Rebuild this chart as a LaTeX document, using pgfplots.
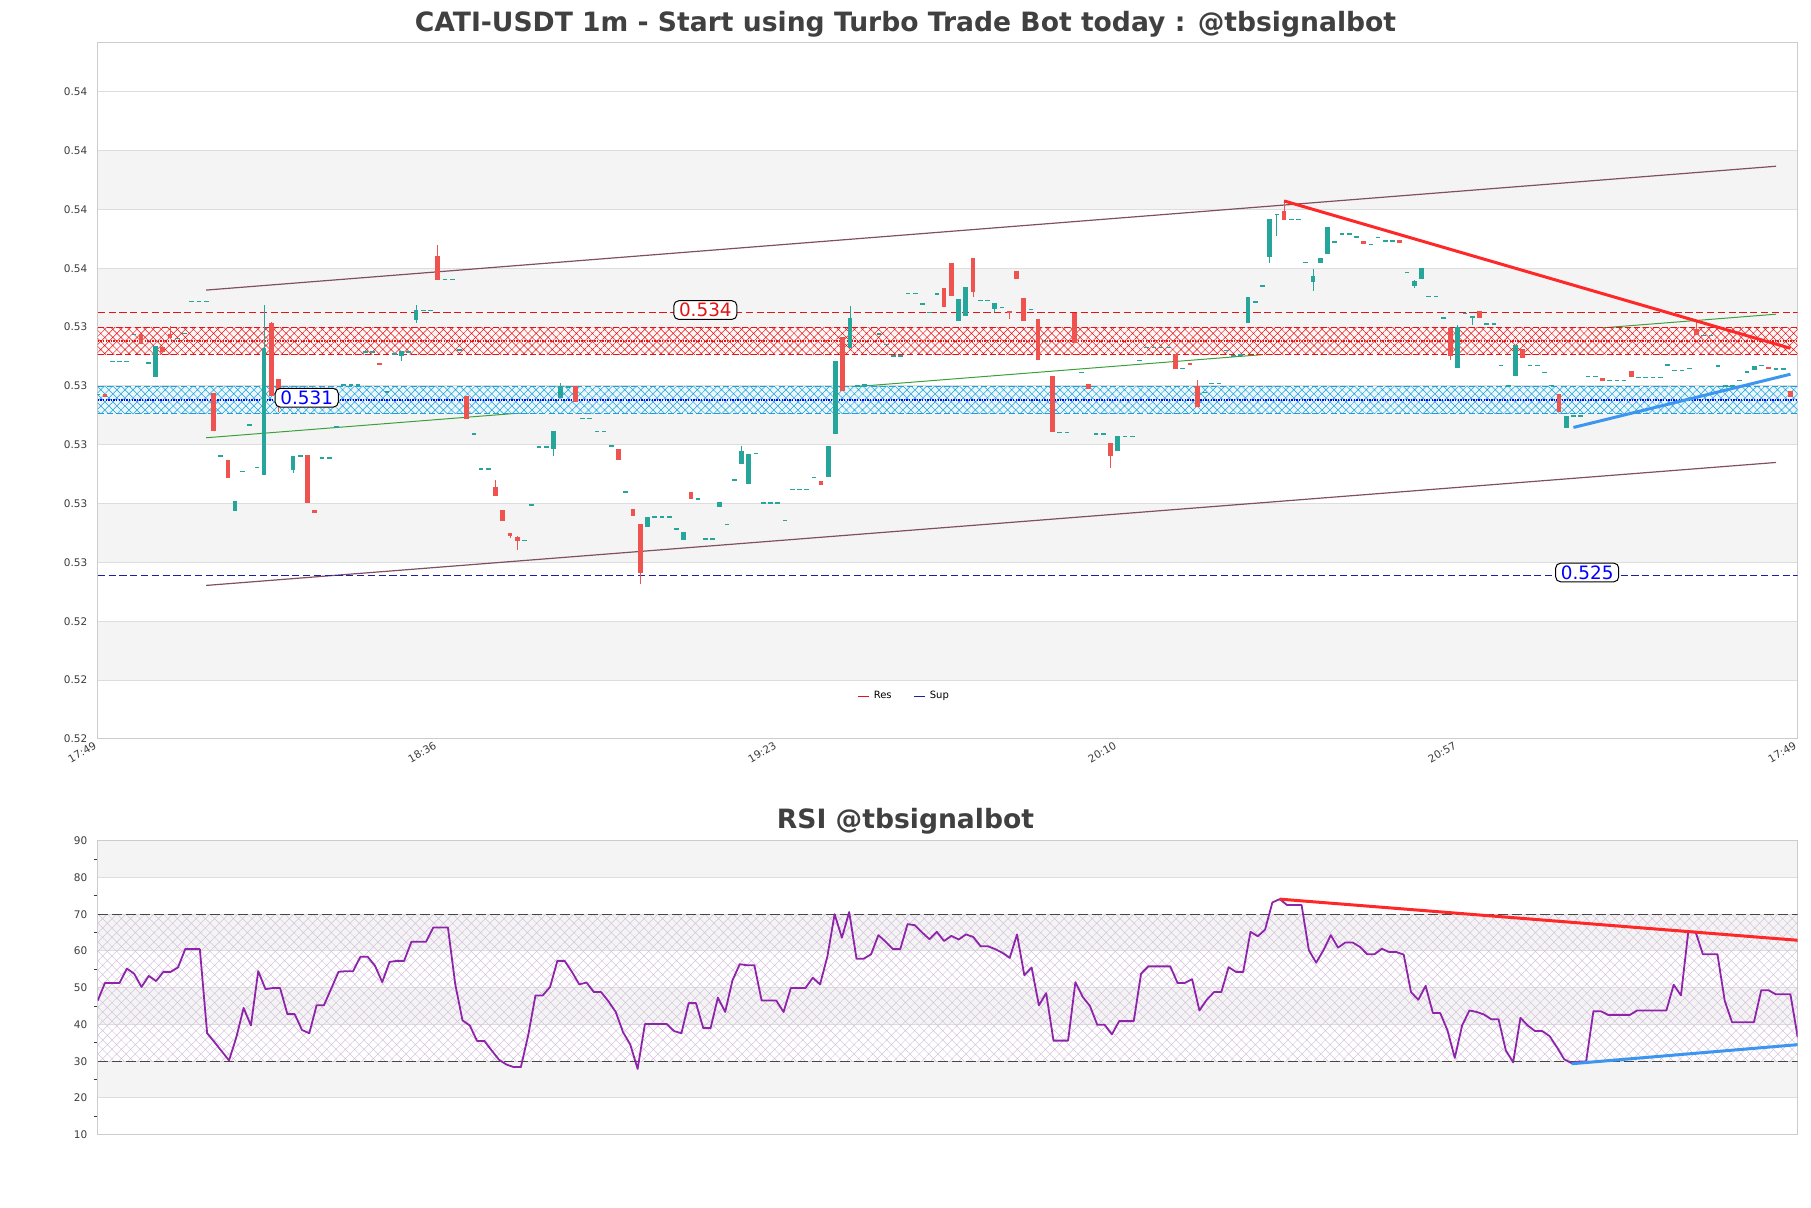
\documentclass[border=0pt]{standalone}
\usepackage{fontspec}
\setmainfont{DejaVu Sans}
\usepackage{pgfplots}
\usepackage{pgfplotstable}
\pgfplotsset{compat=1.18}
\usetikzlibrary{patterns.meta}

\definecolor{bandgray}{RGB}{244,244,244}
\definecolor{gridgray}{RGB}{221,221,221}
\definecolor{axgray}{RGB}{204,204,204}
\definecolor{tickgray}{RGB}{60,60,60}
\definecolor{titlegray}{RGB}{64,64,64}
\definecolor{cgreen}{RGB}{38,166,154}
\definecolor{cred}{RGB}{239,83,80}
\definecolor{resred}{RGB}{228,20,20}
\definecolor{chan}{RGB}{128,80,96}
\definecolor{midg}{RGB}{60,160,60}
\definecolor{trendred}{RGB}{255,40,40}
\definecolor{trendblue}{RGB}{60,150,240}
\definecolor{supcyan}{RGB}{30,160,215}
\definecolor{supblue}{RGB}{0,0,255}
\definecolor{supnavy}{RGB}{30,30,170}
\definecolor{rsipurple}{RGB}{142,36,170}
\definecolor{hatchpurple}{RGB}{215,195,222}
\definecolor{lvlgray}{RGB}{70,70,70}

\newcommand\tickfont{\fontsize{5.25}{6}\selectfont}
\newcommand\titlefont{\fontsize{13.3}{15}\selectfont\bfseries}

% 1m candles: index, open, high, low, close
\pgfplotstableread{
x o h l c
0 0.53173 0.53173 0.53173 0.53173
1 0.53173 0.53173 0.53164 0.53164
2 0.53284 0.53284 0.53284 0.53284
3 0.53284 0.53284 0.53284 0.53284
4 0.53284 0.53284 0.53284 0.53284
5 0.53376 0.53376 0.53376 0.53376
6 0.53377 0.53377 0.53345 0.53345
7 0.53280 0.53280 0.53280 0.53280
8 0.53232 0.53338 0.53232 0.53338
9 0.53334 0.53334 0.53317 0.53317
10 0.53377 0.53404 0.53362 0.53362
11 0.53362 0.53362 0.53362 0.53362
12 0.53381 0.53381 0.53381 0.53381
13 0.53489 0.53489 0.53489 0.53489
14 0.53489 0.53489 0.53489 0.53489
15 0.53489 0.53489 0.53489 0.53489
16 0.53175 0.53175 0.53048 0.53048
17 0.52964 0.52964 0.52964 0.52964
18 0.52950 0.52950 0.52889 0.52889
19 0.52776 0.52809 0.52776 0.52809
20 0.52910 0.52910 0.52910 0.52910
21 0.53069 0.53069 0.53069 0.53069
22 0.52924 0.52924 0.52924 0.52924
23 0.52899 0.53475 0.52899 0.53328
24 0.53413 0.53419 0.53167 0.53167
25 0.53224 0.53224 0.53112 0.53186
26 0.53186 0.53186 0.53186 0.53186
27 0.52914 0.52962 0.52905 0.52962
28 0.52962 0.52962 0.52962 0.52962
29 0.52965 0.52965 0.52803 0.52803
30 0.52778 0.52778 0.52769 0.52769
31 0.52957 0.52957 0.52957 0.52957
32 0.52957 0.52957 0.52957 0.52957
33 0.53061 0.53061 0.53061 0.53061
34 0.53205 0.53205 0.53205 0.53205
35 0.53205 0.53205 0.53205 0.53205
36 0.53205 0.53205 0.53205 0.53205
37 0.53318 0.53318 0.53318 0.53318
38 0.53318 0.53318 0.53318 0.53318
39 0.53280 0.53280 0.53275 0.53275
40 0.53180 0.53180 0.53180 0.53180
41 0.53311 0.53311 0.53311 0.53311
42 0.53303 0.53318 0.53286 0.53318
43 0.53318 0.53318 0.53318 0.53318
44 0.53424 0.53475 0.53413 0.53458
45 0.53458 0.53458 0.53458 0.53458
46 0.53458 0.53458 0.53458 0.53458
47 0.53642 0.53679 0.53563 0.53563
48 0.53563 0.53563 0.53563 0.53563
49 0.53563 0.53563 0.53563 0.53563
50 0.53324 0.53324 0.53324 0.53324
51 0.53166 0.53166 0.53090 0.53090
52 0.53039 0.53039 0.53039 0.53039
53 0.52920 0.52920 0.52920 0.52920
54 0.52920 0.52920 0.52920 0.52920
55 0.52857 0.52882 0.52827 0.52827
56 0.52778 0.52778 0.52742 0.52742
57 0.52699 0.52699 0.52684 0.52691
58 0.52687 0.52693 0.52644 0.52674
59 0.52676 0.52676 0.52676 0.52676
60 0.52797 0.52797 0.52797 0.52797
61 0.52995 0.52995 0.52995 0.52995
62 0.52995 0.52995 0.52995 0.52995
63 0.52987 0.53047 0.52963 0.53047
64 0.53159 0.53212 0.53159 0.53200
65 0.53198 0.53198 0.53198 0.53198
66 0.53200 0.53200 0.53147 0.53147
67 0.53090 0.53090 0.53090 0.53090
68 0.53090 0.53090 0.53090 0.53090
69 0.53047 0.53047 0.53047 0.53047
70 0.53047 0.53047 0.53047 0.53047
71 0.52998 0.52998 0.52998 0.52998
72 0.52988 0.52988 0.52950 0.52950
73 0.52842 0.52842 0.52842 0.52842
74 0.52780 0.52780 0.52759 0.52759
75 0.52730 0.52730 0.52526 0.52565
76 0.52721 0.52756 0.52721 0.52756
77 0.52756 0.52756 0.52756 0.52756
78 0.52756 0.52756 0.52756 0.52756
79 0.52756 0.52756 0.52756 0.52756
80 0.52716 0.52716 0.52716 0.52716
81 0.52676 0.52703 0.52676 0.52703
82 0.52842 0.52842 0.52818 0.52818
83 0.52818 0.52818 0.52818 0.52818
84 0.52682 0.52682 0.52682 0.52682
85 0.52682 0.52682 0.52682 0.52682
86 0.52789 0.52807 0.52789 0.52807
87 0.52730 0.52730 0.52730 0.52730
88 0.52883 0.52883 0.52883 0.52883
89 0.52936 0.52996 0.52936 0.52979
90 0.52869 0.52971 0.52869 0.52971
91 0.52971 0.52971 0.52971 0.52971
92 0.52804 0.52804 0.52804 0.52804
93 0.52804 0.52804 0.52804 0.52804
94 0.52804 0.52804 0.52804 0.52804
95 0.52744 0.52744 0.52744 0.52744
96 0.52849 0.52849 0.52849 0.52849
97 0.52849 0.52849 0.52849 0.52849
98 0.52849 0.52849 0.52849 0.52849
99 0.52891 0.52891 0.52891 0.52891
100 0.52877 0.52877 0.52864 0.52864
101 0.52891 0.52996 0.52891 0.52996
102 0.53038 0.53285 0.53038 0.53285
103 0.53368 0.53368 0.53184 0.53184
104 0.53330 0.53475 0.53330 0.53430
105 0.53200 0.53200 0.53200 0.53200
106 0.53205 0.53205 0.53205 0.53205
107 0.53203 0.53203 0.53203 0.53203
108 0.53379 0.53379 0.53379 0.53379
109 0.53343 0.53343 0.53343 0.53343
110 0.53302 0.53302 0.53302 0.53302
111 0.53302 0.53302 0.53302 0.53302
112 0.53517 0.53517 0.53517 0.53517
113 0.53517 0.53517 0.53517 0.53517
114 0.53481 0.53481 0.53481 0.53481
115 0.53450 0.53450 0.53450 0.53450
116 0.53515 0.53515 0.53515 0.53515
117 0.53535 0.53535 0.53470 0.53470
118 0.53620 0.53620 0.53507 0.53507
119 0.53422 0.53496 0.53422 0.53496
120 0.53439 0.53535 0.53439 0.53535
121 0.53634 0.53634 0.53504 0.53521
122 0.53492 0.53492 0.53492 0.53492
123 0.53492 0.53492 0.53492 0.53492
124 0.53462 0.53481 0.53453 0.53481
125 0.53467 0.53467 0.53467 0.53467
126 0.53456 0.53456 0.53427 0.53451
127 0.53591 0.53591 0.53565 0.53565
128 0.53500 0.53500 0.53424 0.53424
129 0.53462 0.53462 0.53462 0.53462
130 0.53430 0.53430 0.53288 0.53288
131 0.53353 0.53353 0.53353 0.53353
132 0.53234 0.53234 0.53044 0.53044
133 0.53044 0.53044 0.53044 0.53044
134 0.53044 0.53044 0.53044 0.53044
135 0.53450 0.53450 0.53347 0.53347
136 0.53246 0.53246 0.53246 0.53246
137 0.53209 0.53209 0.53190 0.53190
138 0.53039 0.53039 0.53039 0.53039
139 0.53039 0.53039 0.53039 0.53039
140 0.53006 0.53006 0.52922 0.52963
141 0.52980 0.53030 0.52980 0.53030
142 0.53029 0.53029 0.53029 0.53029
143 0.53029 0.53029 0.53029 0.53029
144 0.53287 0.53287 0.53287 0.53287
145 0.53332 0.53332 0.53332 0.53332
146 0.53332 0.53332 0.53332 0.53332
147 0.53332 0.53332 0.53332 0.53332
148 0.53332 0.53332 0.53332 0.53332
149 0.53309 0.53309 0.53258 0.53258
150 0.53260 0.53260 0.53260 0.53260
151 0.53279 0.53279 0.53272 0.53272
152 0.53201 0.53222 0.53129 0.53129
153 0.53179 0.53179 0.53179 0.53179
154 0.53209 0.53209 0.53209 0.53209
155 0.53209 0.53209 0.53209 0.53209
156 0.53322 0.53322 0.53322 0.53322
157 0.53302 0.53302 0.53302 0.53302
158 0.53307 0.53307 0.53307 0.53307
159 0.53413 0.53504 0.53413 0.53504
160 0.53487 0.53487 0.53487 0.53487
161 0.53541 0.53541 0.53541 0.53541
162 0.53640 0.53767 0.53619 0.53767
163 0.53781 0.53787 0.53711 0.53787
164 0.53796 0.53832 0.53764 0.53764
165 0.53767 0.53767 0.53767 0.53767
166 0.53767 0.53767 0.53767 0.53767
167 0.53620 0.53620 0.53620 0.53620
168 0.53555 0.53598 0.53524 0.53574
169 0.53619 0.53637 0.53619 0.53637
170 0.53649 0.53742 0.53649 0.53742
171 0.53692 0.53692 0.53692 0.53692
172 0.53718 0.53718 0.53718 0.53718
173 0.53718 0.53718 0.53718 0.53718
174 0.53708 0.53708 0.53708 0.53708
175 0.53693 0.53693 0.53683 0.53683
176 0.53683 0.53683 0.53683 0.53683
177 0.53705 0.53705 0.53705 0.53705
178 0.53695 0.53695 0.53695 0.53695
179 0.53695 0.53695 0.53695 0.53695
180 0.53696 0.53696 0.53687 0.53687
181 0.53588 0.53588 0.53588 0.53588
182 0.53543 0.53560 0.53534 0.53560
183 0.53565 0.53603 0.53565 0.53603
184 0.53505 0.53505 0.53505 0.53505
185 0.53505 0.53505 0.53505 0.53505
186 0.53433 0.53433 0.53433 0.53433
187 0.53396 0.53396 0.53288 0.53303
188 0.53262 0.53407 0.53262 0.53402
189 0.53449 0.53449 0.53449 0.53449
190 0.53433 0.53440 0.53407 0.53440
191 0.53456 0.53456 0.53432 0.53432
192 0.53413 0.53413 0.53413 0.53413
193 0.53413 0.53413 0.53413 0.53413
194 0.53271 0.53271 0.53271 0.53271
195 0.53201 0.53201 0.53201 0.53201
196 0.53235 0.53339 0.53235 0.53339
197 0.53328 0.53328 0.53297 0.53297
198 0.53271 0.53271 0.53271 0.53271
199 0.53271 0.53271 0.53271 0.53271
200 0.53246 0.53246 0.53246 0.53246
201 0.53203 0.53203 0.53203 0.53203
202 0.53173 0.53173 0.53112 0.53112
203 0.53059 0.53098 0.53059 0.53098
204 0.53100 0.53100 0.53100 0.53100
205 0.53100 0.53100 0.53100 0.53100
206 0.53234 0.53234 0.53234 0.53234
207 0.53234 0.53234 0.53234 0.53234
208 0.53229 0.53229 0.53218 0.53218
209 0.53220 0.53220 0.53220 0.53220
210 0.53220 0.53220 0.53220 0.53220
211 0.53220 0.53220 0.53220 0.53220
212 0.53251 0.53251 0.53229 0.53229
213 0.53229 0.53229 0.53229 0.53229
214 0.53229 0.53229 0.53229 0.53229
215 0.53229 0.53229 0.53229 0.53229
216 0.53229 0.53229 0.53229 0.53229
217 0.53273 0.53273 0.53273 0.53273
218 0.53254 0.53254 0.53254 0.53254
219 0.53254 0.53254 0.53254 0.53254
220 0.53260 0.53260 0.53260 0.53260
221 0.53393 0.53424 0.53373 0.53373
222 0.53373 0.53373 0.53373 0.53373
223 0.53373 0.53373 0.53373 0.53373
224 0.53269 0.53269 0.53269 0.53269
225 0.53201 0.53201 0.53201 0.53201
226 0.53201 0.53201 0.53201 0.53201
227 0.53220 0.53220 0.53220 0.53220
228 0.53250 0.53250 0.53250 0.53250
229 0.53254 0.53270 0.53254 0.53270
230 0.53270 0.53270 0.53270 0.53270
231 0.53265 0.53265 0.53259 0.53259
232 0.53259 0.53259 0.53259 0.53259
233 0.53259 0.53259 0.53259 0.53259
234 0.53184 0.53184 0.53164 0.53164
}\candles

% RSI, one value per candle from the second candle on
\pgfplotstableread{
k rsi
0 46.5
1 51.3
2 51.3
3 51.3
4 55.2
5 53.8
6 50.2
7 53.2
8 51.8
9 54.3
10 54.3
11 55.5
12 60.5
13 60.5
14 60.5
15 37.6
16 35.2
17 32.7
18 30.2
19 36.5
20 44.5
21 39.7
22 54.5
23 49.6
24 49.9
25 49.9
26 42.8
27 42.8
28 38.5
29 37.6
30 45.2
31 45.2
32 49.7
33 54.3
34 54.5
35 54.5
36 58.4
37 58.4
38 56.0
39 51.5
40 57.0
41 57.3
42 57.3
43 62.5
44 62.5
45 62.5
46 66.4
47 66.4
48 66.4
49 51.0
50 41.1
51 39.7
52 35.5
53 35.5
54 32.9
55 30.4
56 29.1
57 28.4
58 28.4
59 37.0
60 47.9
61 47.9
62 50.2
63 57.3
64 57.3
65 54.3
66 50.9
67 51.4
68 48.8
69 48.8
70 46.3
71 43.4
72 37.9
73 34.5
74 27.9
75 40.1
76 40.1
77 40.1
78 40.1
79 38.2
80 37.6
81 45.8
82 45.8
83 39.0
84 39.0
85 47.3
86 43.4
87 52.0
88 56.4
89 56.1
90 56.1
91 46.5
92 46.5
93 46.5
94 43.4
95 49.9
96 49.9
97 49.9
98 52.7
99 50.9
100 58.4
101 70.0
102 63.6
103 70.6
104 57.9
105 57.9
106 59.1
107 64.3
108 62.5
109 60.5
110 60.5
111 67.3
112 67.0
113 65.0
114 63.2
115 65.2
116 62.7
117 64.1
118 63.1
119 64.5
120 63.8
121 61.3
122 61.3
123 60.5
124 59.5
125 58.1
126 64.5
127 53.4
128 55.5
129 45.2
130 48.5
131 35.6
132 35.6
133 35.6
134 51.5
135 47.5
136 45.0
137 39.9
138 39.9
139 37.3
140 40.9
141 40.9
142 40.9
143 53.8
144 55.8
145 55.8
146 55.8
147 55.8
148 51.3
149 51.3
150 52.3
151 43.8
152 46.7
153 48.8
154 48.8
155 55.6
156 54.3
157 54.3
158 65.2
159 64.0
160 65.8
161 73.2
162 74.1
163 72.5
164 72.5
165 72.5
166 60.2
167 56.8
168 60.2
169 64.3
170 60.9
171 62.3
172 62.3
173 61.1
174 59.1
175 59.1
176 60.6
177 59.7
178 59.7
179 59.0
180 48.8
181 46.7
182 50.5
183 43.1
184 43.1
185 38.4
186 30.9
187 39.7
188 43.8
189 43.4
190 42.7
191 41.4
192 41.4
193 32.9
194 29.7
195 41.8
196 39.7
197 38.2
198 38.2
199 36.8
200 33.8
201 30.5
202 29.5
203 29.9
204 29.9
205 43.6
206 43.6
207 42.6
208 42.6
209 42.6
210 42.6
211 43.8
212 43.8
213 43.8
214 43.8
215 43.8
216 50.8
217 47.9
218 65.2
219 65.2
220 59.1
221 59.1
222 59.1
223 46.4
224 40.6
225 40.6
226 40.6
227 40.6
228 49.3
229 49.3
230 48.2
231 48.2
232 48.2
233 36.5
}\rsidata

\begin{document}
\begin{tikzpicture}
\path (0pt,0pt) rectangle (905.5pt,604pt);

\node[text=titlegray, font=\titlefont] at (452.75pt,592pt)
  {CATI-USDT 1m - Start using Turbo Trade Bot today : @tbsignalbot};
\node[text=titlegray, font=\titlefont] at (452.75pt,193.5pt)
  {RSI @tbsignalbot};

% ---------------- price panel ----------------
\begin{axis}[
  set layers,
  at={(48.85pt,234.5pt)}, anchor=south west,
  scale only axis, width=850pt, height=348pt,
  xmin=0, xmax=235, ymin=0.520, ymax=0.54366,
  axis line style={draw=axgray, line width=0.5pt},
  tick style={draw=none},
  ymajorgrids, grid style={draw=gridgray, line width=0.5pt},
  ytick={0.520,0.522,0.524,0.526,0.528,0.530,0.532,0.534,0.536,0.538,0.540,0.542},
  yticklabels={0.52,0.52,0.52,0.53,0.53,0.53,0.53,0.53,0.54,0.54,0.54,0.54},
  yticklabel style={font=\tickfont, text=tickgray, inner sep=0pt, xshift=-5pt},
  xtick={0,47,94,141,188,235},
  xticklabels={17:49,18:36,19:23,20:10,20:57,17:49},
  xticklabel shift=4.6pt,
  xticklabel style={font=\tickfont, text=tickgray, rotate=30, anchor=south east, inner sep=0pt},
  legend style={at={(0.475,0.061)}, anchor=center, draw=none, fill=none,
    font=\fontsize{5}{6}\selectfont, legend columns=2,
    /tikz/every even column/.append style={column sep=9pt}},
  legend image code/.code={\draw[#1] (0pt,0pt) -- (5.5pt,0pt);},
]
\begin{pgfonlayer}{axis background}
  \fill[bandgray] (axis cs:0,0.522) rectangle (axis cs:235,0.524);
  \fill[bandgray] (axis cs:0,0.526) rectangle (axis cs:235,0.528);
  \fill[bandgray] (axis cs:0,0.530) rectangle (axis cs:235,0.532);
  \fill[bandgray] (axis cs:0,0.534) rectangle (axis cs:235,0.536);
  \fill[bandgray] (axis cs:0,0.538) rectangle (axis cs:235,0.540);
\end{pgfonlayer}

% price channel
\addplot[forget plot, chan, line width=0.6pt] coordinates {(15,0.53526) (232,0.53947)};
\addplot[forget plot, chan, line width=0.6pt] coordinates {(15,0.52522) (232,0.52940)};
\addplot[forget plot, midg, line width=0.5pt] coordinates {(15,0.53024) (232,0.53444)};

% resistance zone
\fill[red!3] (axis cs:0,0.53307) rectangle (axis cs:235,0.53398);
\fill[pattern={Hatch[angle=45,distance=2.85pt,line width=0.25pt]}, pattern color=resred]
  (axis cs:0,0.53307) rectangle (axis cs:235,0.53398);
\addplot[forget plot, resred, line width=0.5pt, dash pattern=on 3pt off 1.6pt] coordinates {(0,0.53398) (235,0.53398)};
\addplot[forget plot, resred, line width=0.5pt, dash pattern=on 3pt off 1.6pt] coordinates {(0,0.53307) (235,0.53307)};
\addplot[forget plot, resred, line width=1pt, dash pattern=on 0.7pt off 0.6pt] coordinates {(0,0.53353) (235,0.53353)};

% support zone
\fill[supcyan!10] (axis cs:0,0.53107) rectangle (axis cs:235,0.53197);
\fill[pattern={Hatch[angle=45,distance=2.85pt,line width=0.25pt]}, pattern color=supcyan]
  (axis cs:0,0.53107) rectangle (axis cs:235,0.53197);
\addplot[forget plot, supcyan, line width=0.5pt, dash pattern=on 3pt off 1.6pt] coordinates {(0,0.53197) (235,0.53197)};
\addplot[forget plot, supcyan, line width=0.5pt, dash pattern=on 3pt off 1.6pt] coordinates {(0,0.53107) (235,0.53107)};
\addplot[forget plot, supblue, line width=1pt, dash pattern=on 0.7pt off 0.6pt] coordinates {(0,0.53152) (235,0.53152)};

% level lines
\addplot[forget plot, resred, line width=0.55pt, dash pattern=on 3.6pt off 1.8pt] coordinates {(0,0.53450) (235,0.53450)};
\addplot[forget plot, supnavy, line width=0.55pt, dash pattern=on 3.6pt off 1.8pt] coordinates {(0,0.52556) (235,0.52556)};

% wicks
\addplot[forget plot, draw=none, error bars/.cd, y dir=both, y explicit, error mark=none,
  error bar style={draw=cgreen, line width=0.5pt, solid}]
  table[x expr={\thisrow{c}<\thisrow{o} ? nan : \thisrow{x}},
        y expr={(\thisrow{h}+\thisrow{l})/2}, y error expr={(\thisrow{h}-\thisrow{l})/2}] {\candles};
\addplot[forget plot, draw=none, error bars/.cd, y dir=both, y explicit, error mark=none,
  error bar style={draw=cred, line width=0.5pt, solid}]
  table[x expr={\thisrow{c}<\thisrow{o} ? \thisrow{x} : nan},
        y expr={(\thisrow{h}+\thisrow{l})/2}, y error expr={(\thisrow{h}-\thisrow{l})/2}] {\candles};
% bodies
\addplot[forget plot, draw=none, error bars/.cd, y dir=both, y explicit, error mark=none,
  error bar style={draw=cgreen, line width=2.35pt, solid}]
  table[x expr={\thisrow{c}<\thisrow{o} ? nan : \thisrow{x}},
        y expr={(\thisrow{o}+\thisrow{c})/2}, y error expr={max(abs(\thisrow{o}-\thisrow{c})/2,0.000017)}] {\candles};
\addplot[forget plot, draw=none, error bars/.cd, y dir=both, y explicit, error mark=none,
  error bar style={draw=cred, line width=2.35pt, solid}]
  table[x expr={\thisrow{c}<\thisrow{o} ? \thisrow{x} : nan},
        y expr={(\thisrow{o}+\thisrow{c})/2}, y error expr={max(abs(\thisrow{o}-\thisrow{c})/2,0.000017)}] {\candles};

% trend lines
\addplot[forget plot, trendred, line width=1.5pt] coordinates {(164,0.53829) (234,0.53328)};
\addplot[forget plot, trendblue, line width=1.5pt] coordinates {(204,0.53059) (234,0.53240)};

\addlegendimage{resred, line width=0.6pt}
\addlegendentry{Res}
\addlegendimage{supnavy, line width=0.6pt}
\addlegendentry{Sup}

\node[draw=black, line width=0.5pt, rounded corners=2.5pt, fill=white, text=resred,
  inner xsep=2.6pt, inner ysep=1.2pt, font=\fontsize{9.2}{10}\selectfont] at (axis cs:84,0.53458) {0.534};
\node[draw=black, line width=0.5pt, rounded corners=2.5pt, fill=white, text=blue,
  inner xsep=2.6pt, inner ysep=1.2pt, font=\fontsize{9.2}{10}\selectfont] at (axis cs:28.9,0.53160) {0.531};
\node[draw=black, line width=0.5pt, rounded corners=2.5pt, fill=white, text=blue,
  inner xsep=2.6pt, inner ysep=1.2pt, font=\fontsize{9.2}{10}\selectfont] at (axis cs:205.9,0.52566) {0.525};
\end{axis}

% ---------------- RSI panel ----------------
\begin{axis}[
  set layers,
  at={(48.85pt,36.65pt)}, anchor=south west,
  scale only axis, width=850pt, height=147pt,
  xmin=0, xmax=233, ymin=10, ymax=90,
  axis line style={draw=axgray, line width=0.5pt},
  tick style={draw=none},
  ytick pos=left,
  ytick align=outside, major tick length=0pt, minor tick length=2pt,
  minor ytick={15,25,35,45,55,65,75,85},
  minor tick style={draw=tickgray, line width=0.4pt},
  ymajorgrids, grid style={draw=gridgray, line width=0.5pt},
  ytick={10,20,30,40,50,60,70,80,90},
  yticklabels={10,20,30,40,50,60,70,80,90},
  yticklabel style={font=\tickfont, text=tickgray, inner sep=0pt, xshift=-5pt},
  xtick=\empty,
]
\begin{pgfonlayer}{axis background}
  \fill[bandgray] (axis cs:0,20) rectangle (axis cs:233,30);
  \fill[bandgray] (axis cs:0,40) rectangle (axis cs:233,50);
  \fill[bandgray] (axis cs:0,60) rectangle (axis cs:233,70);
  \fill[bandgray] (axis cs:0,80) rectangle (axis cs:233,90);
\end{pgfonlayer}
\fill[pattern={Hatch[angle=45,distance=3.3pt,line width=0.25pt]}, pattern color=hatchpurple]
  (axis cs:0,30) rectangle (axis cs:233,70);
\addplot[forget plot, lvlgray, line width=0.6pt, dash pattern=on 5pt off 2pt] coordinates {(0,70) (233,70)};
\addplot[forget plot, lvlgray, line width=0.6pt, dash pattern=on 5pt off 2pt] coordinates {(0,30) (233,30)};
\addplot[forget plot, rsipurple, line width=0.9pt, line join=round] table[x=k, y=rsi] {\rsidata};
\addplot[forget plot, trendred, line width=1.5pt] coordinates {(162,74.1) (233,62.9)};
\addplot[forget plot, trendblue, line width=1.5pt] coordinates {(202,29.3) (233,34.5)};
\end{axis}
\end{tikzpicture}
\end{document}
